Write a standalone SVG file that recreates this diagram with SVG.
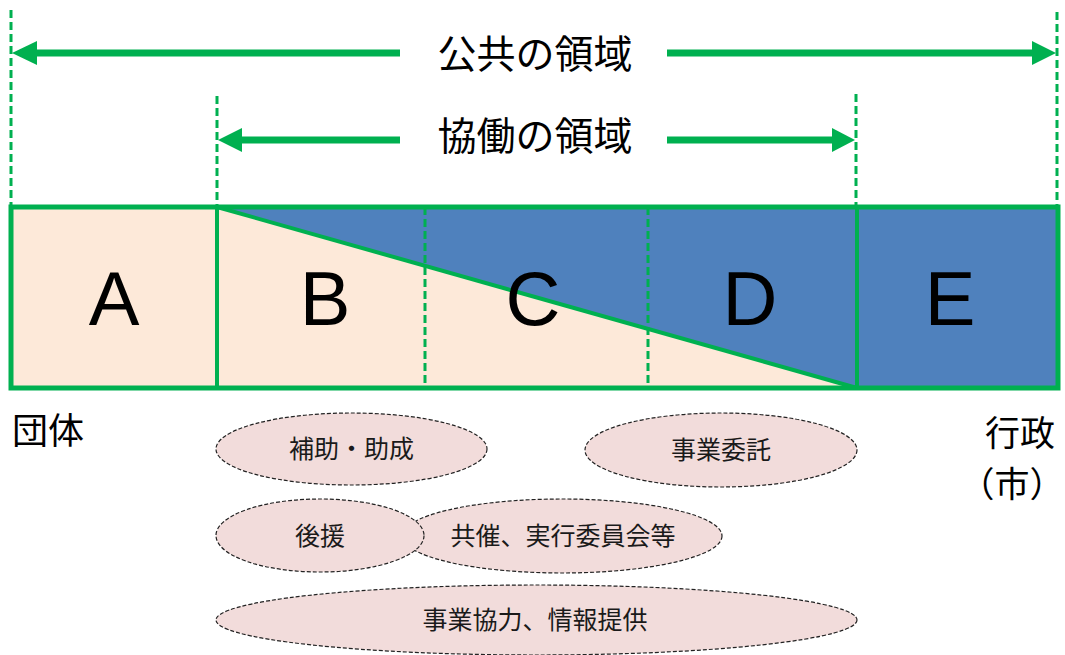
<svg xmlns="http://www.w3.org/2000/svg" width="1065" height="655" viewBox="0 0 1065 655">
<style>
.g{stroke:#00B050;fill:none}
.guide{stroke:#00B050;stroke-width:3;stroke-dasharray:8 4;fill:none}
.shaft{stroke:#00B050;stroke-width:7;fill:none}
.head{fill:#00B050}
.jp{font-family:"Noto Sans CJK JP","Noto Sans CJK SC",sans-serif;fill:#000}
.big{font-family:"Liberation Sans",Arial,sans-serif;font-size:76px;fill:#000;text-anchor:middle}
.ell{fill:#F2DCDB;stroke:#222;stroke-width:1.2;stroke-dasharray:4 2}
.et{font-family:"Noto Sans CJK JP","Noto Sans CJK SC",sans-serif;font-size:25px;fill:#1a1a1a;text-anchor:middle}
</style>
<rect width="1065" height="655" fill="#fff"/>
<g id="bar">
  <rect x="11" y="207" width="206" height="181" fill="#FDE9D9"/>
  <rect x="217" y="207" width="640" height="181" fill="#4F81BD"/>
  <polygon points="217,207 857,388 217,388" fill="#FDE9D9"/>
  <rect x="857" y="207" width="201" height="181" fill="#4F81BD"/>
  <line x1="425" y1="207" x2="425" y2="388" stroke="#00B050" stroke-width="3" stroke-dasharray="8 4"/>
  <line x1="648" y1="207" x2="648" y2="388" stroke="#00B050" stroke-width="3" stroke-dasharray="8 4"/>
  <line class="g" x1="217" y1="207" x2="857" y2="388" stroke-width="4"/>
  <line class="g" x1="217" y1="207" x2="217" y2="388" stroke-width="4"/>
  <line class="g" x1="857" y1="207" x2="857" y2="388" stroke-width="4"/>
  <rect class="g" x="11" y="207" width="1047" height="181" stroke-width="5"/>
</g>
<g id="node-A"><text class="big" x="114" y="325">A</text></g>
<g id="node-B"><text class="big" x="325" y="325">B</text></g>
<g id="node-C"><text class="big" x="533" y="325">C</text></g>
<g id="node-D"><text class="big" x="750" y="325">D</text></g>
<g id="node-E"><text class="big" x="950" y="325">E</text></g>
<g id="connectors">
  <line class="guide" x1="11" y1="10" x2="11" y2="207"/>
  <line class="guide" x1="1057" y1="12" x2="1057" y2="207"/>
  <line class="guide" x1="217" y1="96" x2="217" y2="207"/>
  <line class="guide" x1="856" y1="94" x2="856" y2="207"/>
  <line class="shaft" x1="36" y1="53" x2="400" y2="53"/>
  <polygon class="head" points="12,53 37,41 37,65"/>
  <line class="shaft" x1="667" y1="53" x2="1033" y2="53"/>
  <polygon class="head" points="1056,53 1032,41 1032,65"/>
  <line class="shaft" x1="241" y1="140" x2="400" y2="140"/>
  <polygon class="head" points="218,140 242,128 242,152"/>
  <line class="shaft" x1="667" y1="140" x2="833" y2="140"/>
  <polygon class="head" points="855,140 832,128 832,152"/>
</g>
<g id="label-public"><text class="jp" x="535" y="68" font-size="39" text-anchor="middle">公共の領域</text></g>
<g id="label-kyodo"><text class="jp" x="535" y="150" font-size="39" text-anchor="middle">協働の領域</text></g>
<g id="label-dantai"><text class="jp" x="12" y="444" font-size="36">団体</text></g>
<g id="label-gyosei">
  <text class="jp" font-size="35" text-anchor="middle"><tspan x="1020" y="446">行政</tspan><tspan x="1012" y="497">（市）</tspan></text>
</g>
<g id="node-hojo"><ellipse class="ell" cx="351.5" cy="449" rx="135.5" ry="36"/><text class="et" x="351.5" y="458">補助・助成</text></g>
<g id="node-itaku"><ellipse class="ell" cx="721" cy="450" rx="136" ry="37"/><text class="et" x="721" y="459">事業委託</text></g>
<g id="node-kyosai"><ellipse class="ell" cx="562" cy="536" rx="160" ry="37"/><text class="et" x="563" y="545">共催、実行委員会等</text></g>
<g id="node-koen"><ellipse class="ell" cx="320" cy="535.5" rx="104" ry="36.5"/><text class="et" x="320" y="545">後援</text></g>
<g id="node-kyoryoku"><ellipse class="ell" cx="536.5" cy="620" rx="320.5" ry="35"/><text class="et" x="535" y="629">事業協力、情報提供</text></g>
</svg>
